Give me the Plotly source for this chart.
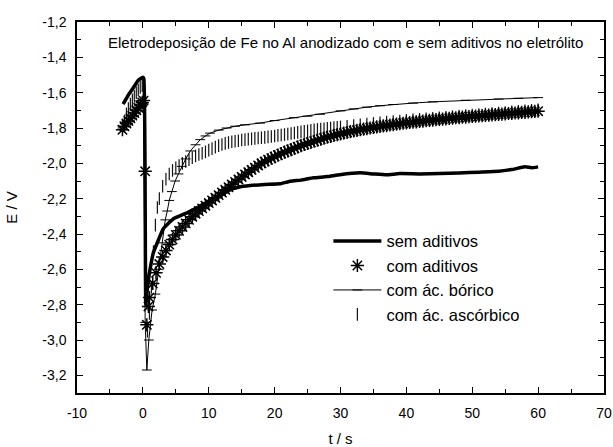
import plotly.graph_objects as go

# ---------------- data ----------------
t_sem = [-3.0, -2.2, -1.5, -0.7, 0.0, 0.15, 0.45, 0.7, 1.0, 1.6, 2.4, 3.1, 4.6, 6.7, 8.7,
         10.0, 11.2, 13.3, 14.5, 16.3, 18.5, 20.8, 22.4, 24.0, 25.9, 28.0, 29.9, 33.0, 35.0,
         37.0, 39.0, 42.0, 45.0, 48.0, 51.0, 54.0, 56.0, 58.0, 59.0, 60.0]
E_sem = [-1.665, -1.613, -1.575, -1.53, -1.513, -1.52, -2.80, -2.70, -2.62, -2.505, -2.43,
         -2.37, -2.315, -2.28, -2.242, -2.215, -2.195, -2.149, -2.135, -2.126, -2.12, -2.116,
         -2.101, -2.095, -2.082, -2.075, -2.064, -2.054, -2.06, -2.065, -2.058, -2.06, -2.058,
         -2.055, -2.05, -2.045, -2.035, -2.02, -2.025, -2.02]

t_com = [-3.1, -2.8, -2.5, -2.2, -1.9, -1.6, -1.3, -1.0, -0.7, -0.4, -0.1, 0.1, 0.35, 0.6, 0.85,
         1.0, 1.5, 2.0, 2.5, 3.0, 3.5, 4.0, 4.5, 5.0, 5.5, 6.0, 6.5, 7.0, 7.5, 8.0, 8.5, 9.0, 9.5,
         10.0, 10.5, 11.0, 11.5, 12.0, 12.5, 13.0, 13.5, 14.0, 14.5, 15.0, 15.5, 16.0, 16.5,
         17.0, 17.5, 18.0, 18.5, 19.0, 19.5, 20.0, 20.5, 21.0, 21.5, 22.0, 22.5, 23.0, 23.5,
         24.0, 24.5, 25.0, 25.5, 26.0, 26.5, 27.0, 27.5, 28.0, 28.5, 29.0, 29.5, 30.0, 30.5,
         31.0, 31.5, 32.0, 32.5, 33.0, 33.5, 34.0, 34.5, 35.0, 35.5, 36.0, 36.5, 37.0, 37.5,
         38.0, 38.5, 39.0, 39.5, 40.0, 40.5, 41.0, 41.5, 42.0, 42.5, 43.0, 43.5, 44.0, 44.5,
         45.0, 45.5, 46.0, 46.5, 47.0, 47.5, 48.0, 48.5, 49.0, 49.5, 50.0, 50.5, 51.0, 51.5,
         52.0, 52.5, 53.0, 53.5, 54.0, 54.5, 55.0, 55.5, 56.0, 56.5, 57.0, 57.5, 58.0, 58.5,
         59.0, 59.5, 60.0]
E_com = [-1.81, -1.79, -1.775, -1.76, -1.745, -1.73, -1.715, -1.70, -1.685, -1.67, -1.655,
         -1.645, -2.045, -2.914, -2.81,
         -2.76, -2.68, -2.62, -2.57, -2.53, -2.493, -2.46, -2.431, -2.405, -2.382, -2.36, -2.34,
         -2.32, -2.302, -2.285, -2.27, -2.255, -2.24, -2.225, -2.21, -2.195, -2.18, -2.165,
         -2.15, -2.135, -2.12, -2.105, -2.091, -2.077, -2.063, -2.05, -2.037, -2.025, -2.012,
         -2.0, -1.99, -1.98, -1.971, -1.962, -1.953, -1.945, -1.937, -1.93, -1.922, -1.915,
         -1.907, -1.90, -1.893, -1.887, -1.881, -1.875, -1.869, -1.863, -1.857, -1.852, -1.847,
         -1.842, -1.837, -1.833, -1.829, -1.825, -1.821, -1.817, -1.813, -1.81, -1.806, -1.803,
         -1.80, -1.797, -1.794, -1.791, -1.788, -1.786, -1.783, -1.781, -1.778, -1.776, -1.773,
         -1.771, -1.769, -1.767, -1.765, -1.763, -1.761, -1.759, -1.757, -1.755, -1.753, -1.751,
         -1.75, -1.748, -1.746, -1.744, -1.742, -1.741, -1.739, -1.738, -1.736, -1.735, -1.733,
         -1.732, -1.73, -1.729, -1.727, -1.726, -1.724, -1.723, -1.721, -1.72, -1.718, -1.717,
         -1.715, -1.714, -1.712, -1.711, -1.709, -1.708, -1.706, -1.705]

t_bor = [-3.1, -2.5, -1.5, -0.5, 0.1, 0.35, 0.6, 0.9, 1.4, 1.9, 2.4, 2.9, 3.4, 3.7, 4.0, 4.4,
         4.9, 5.4, 5.9, 6.5, 7.2, 8.0, 8.7, 9.5, 10.2, 11.5, 12.7, 14.0, 15.5, 17.8, 20.0, 22.9,
         25.0, 26.9, 30.0, 32.0, 34.0, 36.0, 38.0, 41.0, 44.0, 49.0, 54.0, 57.0, 60.0]
E_bor = [-1.80, -1.77, -1.73, -1.69, -1.66, -2.90, -3.17, -3.0, -2.83, -2.74, -2.60, -2.45,
         -2.32, -2.27, -2.21, -2.16, -2.10, -2.06, -2.017, -1.975, -1.93, -1.895, -1.866,
         -1.845, -1.829, -1.812, -1.80, -1.79, -1.782, -1.772, -1.758, -1.742, -1.733, -1.722,
         -1.703, -1.692, -1.682, -1.674, -1.667, -1.659, -1.652, -1.643, -1.636, -1.632, -1.628]

t_asc = [-3.1, -2.8, -2.5, -2.2, -1.9, -1.6, -1.3, -1.0, -0.7, -0.4, -0.1, 0.4, 0.7, 1.0, 1.3,
         1.6, 1.9, 2.2, 2.5, 3.0, 3.5, 4.0, 4.5, 5.0, 5.5, 6.0, 6.5, 7.0, 7.5, 8.0, 8.5, 9.0,
         9.5, 10.0, 10.5, 11.0, 11.5, 12.0, 12.5, 13.0, 13.5, 14.0, 14.5, 15.0, 15.5, 16.0,
         16.5, 17.0, 17.5, 18.0, 18.5, 19.0, 19.5, 20.0, 20.5, 21.0, 21.5, 22.0, 22.5, 23.0,
         23.5, 24.0, 24.5, 25.0, 25.5, 26.0, 26.5, 27.0, 27.5, 28.0, 28.5, 29.0, 29.5, 30.0,
         31, 32, 33, 34, 35, 36, 37, 38, 39, 40, 41, 42, 43, 44, 45, 46, 47, 48, 49, 50, 51,
         52, 53, 54, 55, 56, 57, 58, 59, 60]
E_asc = [-1.79, -1.76, -1.72, -1.69, -1.665, -1.64, -1.62, -1.60, -1.585, -1.57, -1.56,
         -2.4, -2.95, -2.85, -2.7, -2.5, -2.35, -2.25, -2.2, -2.13, -2.09, -2.06, -2.04, -2.025,
         -2.012, -2.0, -1.99, -1.98, -1.968, -1.958, -1.95, -1.943, -1.935, -1.925, -1.917,
         -1.908, -1.9, -1.893, -1.887, -1.882, -1.878, -1.875, -1.872, -1.868, -1.866, -1.863,
         -1.861, -1.859, -1.857, -1.855, -1.853, -1.85, -1.848, -1.845, -1.842, -1.84, -1.837,
         -1.834, -1.831, -1.828, -1.825, -1.822, -1.819, -1.816, -1.813, -1.81, -1.808, -1.806,
         -1.804, -1.802, -1.80, -1.798, -1.796, -1.794, -1.79, -1.786, -1.782, -1.778, -1.774,
         -1.77, -1.766, -1.763, -1.76, -1.757, -1.754, -1.751, -1.748, -1.745, -1.742, -1.739,
         -1.736, -1.733, -1.73, -1.727, -1.724, -1.721, -1.718, -1.715, -1.712, -1.709, -1.706,
         -1.703, -1.70, -1.697]

x_ticks = [-10, 0, 10, 20, 30, 40, 50, 60, 70]
x_ticktext = ["-10", "0", "10", "20", "30", "40", "50", "60", "70"]
y_ticks = [-1.2, -1.4, -1.6, -1.8, -2.0, -2.2, -2.4, -2.6, -2.8, -3.0, -3.2]
y_ticktext = ["-1,2", "-1,4", "-1,6", "-1,8", "-2,0", "-2,2", "-2,4", "-2,6", "-2,8", "-3,0", "-3,2"]

names = ["sem aditivos", "com aditivos", "com ác. bórico", "com ác. ascórbico"]
title_text = "Eletrodeposição de Fe no Al anodizado com e sem aditivos no eletrólito"

FONT = "Arial, Liberation Sans, sans-serif"

fig = go.Figure()

fig.add_trace(go.Scatter(
    x=t_asc, y=E_asc, mode="markers", name=names[3], legendrank=4, legendgroup="d",
    marker=dict(symbol="line-ns-open", size=9, color="#111", line=dict(width=1.2, color="#111")),
))
fig.add_trace(go.Scatter(
    x=t_bor, y=E_bor, mode="lines+markers", name=names[2], legendrank=3, legendgroup="c",
    line=dict(color="black", width=1),
    marker=dict(symbol="line-ew-open", size=7, color="black", line=dict(width=1, color="black")),
))
fig.add_trace(go.Scatter(
    x=t_com, y=E_com, mode="markers", name=names[1], legendrank=2, legendgroup="b",
    marker=dict(symbol="asterisk-open", size=11, color="black", line=dict(width=1.5, color="black")),
))
fig.add_trace(go.Scatter(
    x=t_sem, y=E_sem, mode="lines", name=names[0], legendrank=1, legendgroup="a",
    line=dict(color="black", width=3.5, shape="spline", smoothing=0.4),
))

axis_common = dict(
    showline=True, linecolor="black", linewidth=1.5, mirror="ticks",
    ticks="inside", ticklen=6, tickwidth=1, tickcolor="black",
    showgrid=False, zeroline=False, automargin=False,
    tickfont=dict(family=FONT, size=14, color="black"),
    ticklabelstandoff=6,
)

fig.update_xaxes(
    range=[-10, 70], tickmode="array", tickvals=x_ticks, ticktext=x_ticktext,
    minor=dict(tickmode="linear", tick0=-5, dtick=10, ticks="inside", ticklen=4,
               tickcolor="black", showgrid=False),
    title=dict(text="t / s", font=dict(family=FONT, size=15, color="black"), standoff=20),
    **axis_common,
)
fig.update_yaxes(
    range=[-3.3, -1.2], tickmode="array", tickvals=y_ticks, ticktext=y_ticktext,
    minor=dict(tickmode="linear", tick0=-1.3, dtick=0.2, ticks="inside", ticklen=4,
               tickcolor="black", showgrid=False),
    title=dict(text="E / V", font=dict(family=FONT, size=15, color="black"), standoff=21),
    **axis_common,
)

fig.add_annotation(
    text=title_text, xref="paper", yref="paper", x=0.509, y=0.945,
    xanchor="center", yanchor="middle", showarrow=False,
    font=dict(family=FONT, size=15, color="black"),
)

fig.update_layout(
    width=613, height=447,
    margin=dict(l=77, r=9, t=22, b=54, autoexpand=False),
    paper_bgcolor="white", plot_bgcolor="white",
    font=dict(family=FONT, color="black"),
    showlegend=True,
    legend=dict(
        x=0.477, y=0.456, xanchor="left", yanchor="top",
        bgcolor="rgba(0,0,0,0)", borderwidth=0,
        font=dict(family=FONT, size=16.5, color="black"),
        tracegroupgap=0, itemwidth=48,
    ),
)

fig.write_html("out.html")
